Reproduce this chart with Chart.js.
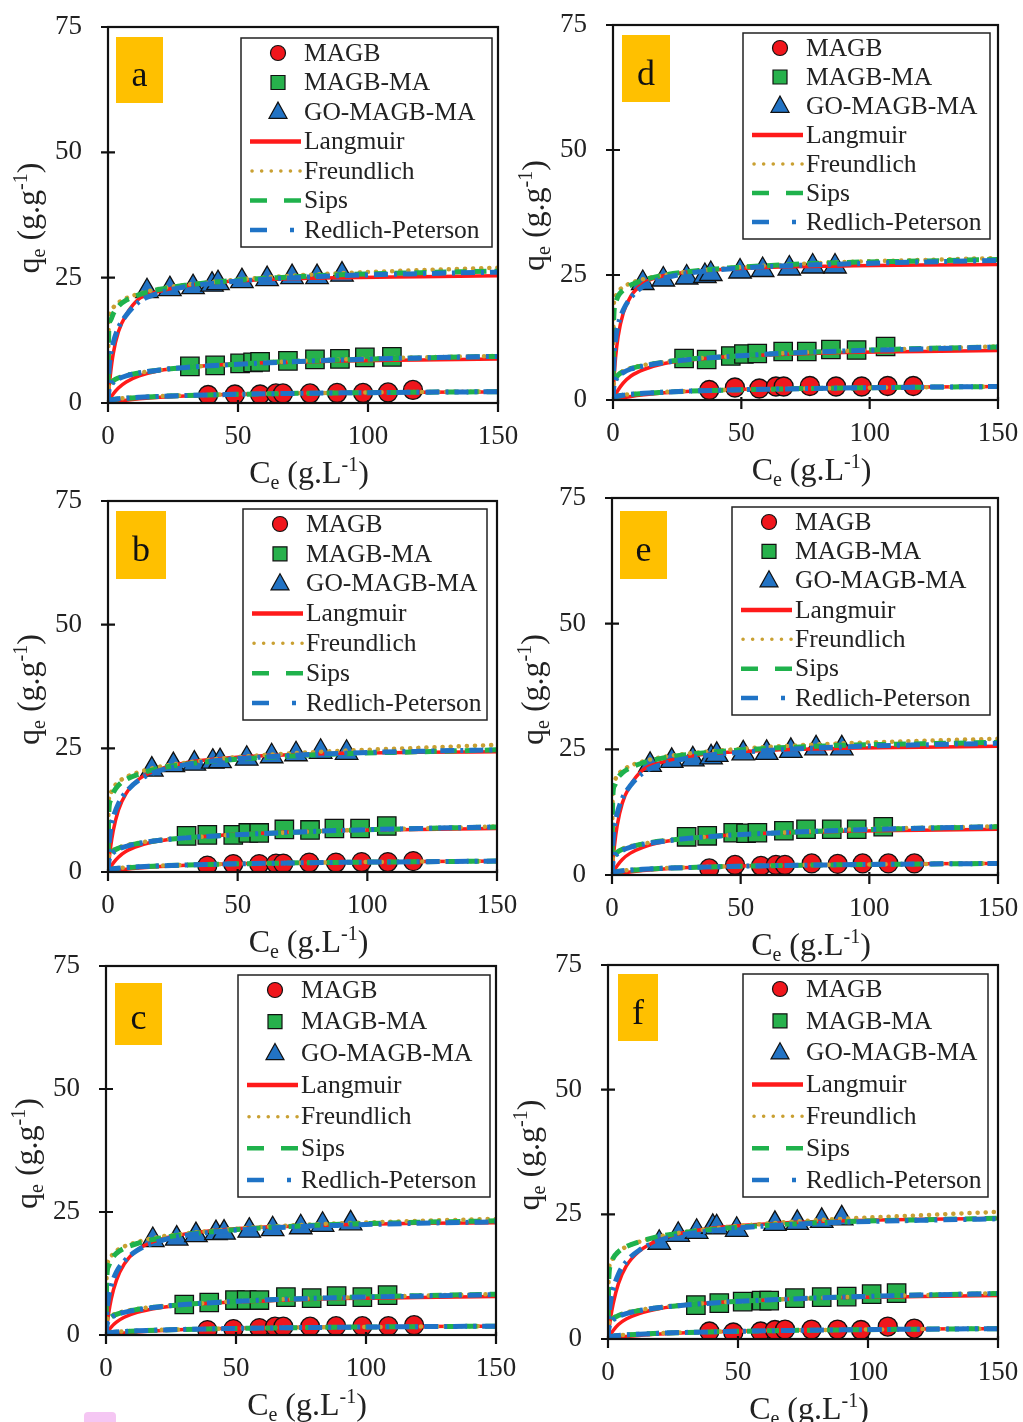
<!DOCTYPE html>
<html>
<head>
<meta charset="utf-8">
<script src="https://cdn.jsdelivr.net/npm/chart.js@4.4.1/dist/chart.umd.min.js"></script>
<style>
  html, body { margin: 0; padding: 0; background: #fff; }
  body { width: 1023px; height: 1422px; position: relative; overflow: hidden; }
  canvas { position: absolute; }
  #mark { position: absolute; left: 84px; top: 1412px; width: 32px; height: 14px; background: #f5c6f3; border-radius: 4px; }
</style>
</head>
<body>
<div id="mark"></div>
<canvas id="pa"></canvas>
<canvas id="pb"></canvas>
<canvas id="pc"></canvas>
<canvas id="pd"></canvas>
<canvas id="pe"></canvas>
<canvas id="pf"></canvas>
<script>
// shared axis / legend content
const matNames = ['MAGB', 'MAGB-MA', 'GO-MAGB-MA'];
const fitNames = ['Langmuir', 'Freundlich', 'Sips', 'Redlich-Peterson'];
const xTicks = [0, 50, 100, 150];
const yTicks = [0, 25, 50, 75];
const fitX = [0, 0.3, 1, 2, 4, 7, 12, 20, 30, 45, 65, 90, 120, 150];

// --- panel a --- (rows: MAGB, MAGB-MA, GO-MAGB-MA)
const ptsXA = [[38.5, 48.8, 58.5, 64.6, 67.3, 77.7, 88.1, 98.1, 107.7, 117.3],
               [31.5, 41.2, 50.8, 55.8, 58.5, 69.2, 79.6, 89.2, 98.8, 109.2],
               [15, 23.8, 32.7, 40, 42.3, 51.5, 61.2, 70.8, 80.4, 90]];
const ptsYA = [[1.6, 1.7, 1.7, 1.9, 1.9, 1.9, 2.0, 2.0, 2.1, 2.6],
               [7.3, 7.5, 7.9, 8.1, 8.2, 8.4, 8.7, 8.8, 9.1, 9.2],
               [22.3, 22.7, 23.1, 23.6, 23.9, 24.3, 24.7, 25.1, 25.1, 25.6]];
const langA = [[0, 0.03, 0.1, 0.2, 0.36, 0.57, 0.84, 1.16, 1.42, 1.68, 1.88, 2.03, 2.13, 2.2],
               [0, 0.33, 1.0, 1.8, 3.0, 4.2, 5.4, 6.5, 7.1, 7.7, 8.1, 8.4, 8.6, 8.8],
               [0, 2.2, 6.0, 9.8, 14.2, 17.6, 20.8, 22.3, 23.4, 24.2, 24.7, 25.0, 25.2, 25.4]];
const freuA = [[0, 0.4, 0.6, 0.72, 0.87, 1.0, 1.16, 1.36, 1.52, 1.7, 1.88, 2.04, 2.2, 2.3],
               [0, 3.3, 4.0, 4.5, 5.0, 5.5, 6.0, 6.6, 7.1, 7.6, 8.2, 8.7, 9.1, 9.4],
               [0, 16.5, 18.0, 19.0, 20.0, 20.9, 21.8, 22.8, 23.6, 24.4, 25.2, 25.9, 26.5, 27.0]];
const sipsA = [[0, 0.25, 0.5, 0.65, 0.8, 0.95, 1.12, 1.33, 1.5, 1.68, 1.86, 2.02, 2.15, 2.25],
               [0, 2.8, 3.8, 4.4, 5.0, 5.5, 6.0, 6.6, 7.1, 7.6, 8.2, 8.6, 9.0, 9.3],
               [0, 14.5, 16.5, 17.8, 19.3, 20.5, 21.6, 22.7, 23.5, 24.3, 25.0, 25.6, 26.0, 26.3]];
const redpA = [[0, 0.3, 0.55, 0.68, 0.83, 0.97, 1.13, 1.33, 1.5, 1.68, 1.86, 2.02, 2.15, 2.25],
               [0, 2.2, 3.4, 4.1, 4.8, 5.4, 6.0, 6.6, 7.1, 7.6, 8.1, 8.6, 9.0, 9.3],
               [0, 5.5, 9.5, 12.0, 15.0, 17.5, 20.2, 22.0, 23.2, 24.1, 24.8, 25.4, 25.8, 26.1]];

// --- panel b ---
const ptsXB = [[38.3, 48.3, 58.3, 64.8, 67.6, 77.6, 87.9, 97.8, 107.9, 117.7],
               [30.3, 38.3, 48.3, 54.1, 58.3, 68, 77.9, 87.3, 97.2, 107.5],
               [16.9, 25.2, 33.3, 40.4, 43.2, 53.5, 63.1, 72.5, 82, 92]];
const ptsYB = [[1.3, 1.6, 1.6, 1.7, 1.7, 1.9, 1.9, 2.0, 2.0, 2.2],
               [7.3, 7.5, 7.5, 7.9, 7.9, 8.6, 8.5, 8.8, 8.8, 9.3],
               [20.7, 21.6, 21.9, 22.3, 22.4, 22.9, 23.4, 23.8, 24.3, 24.1]];
const langB = [[0, 0.03, 0.1, 0.19, 0.35, 0.55, 0.8, 1.1, 1.36, 1.62, 1.82, 1.98, 2.1, 2.2],
               [0, 0.3, 1.0, 1.8, 3.0, 4.2, 5.3, 6.3, 6.9, 7.5, 8.0, 8.4, 8.6, 8.8],
               [0, 1.8, 5.0, 8.3, 12.5, 15.9, 18.8, 20.8, 22.1, 23.0, 23.6, 24.0, 24.2, 24.3]];
const freuB = [[0, 0.35, 0.55, 0.66, 0.8, 0.93, 1.08, 1.27, 1.43, 1.6, 1.78, 1.95, 2.1, 2.2],
               [0, 3.2, 3.9, 4.4, 4.9, 5.4, 5.9, 6.5, 6.9, 7.4, 7.9, 8.4, 8.8, 9.2],
               [0, 14.5, 16.0, 17.0, 18.2, 19.2, 20.2, 21.3, 22.1, 23.0, 23.8, 24.5, 25.1, 25.7]];
const sipsB = [[0, 0.2, 0.45, 0.6, 0.74, 0.88, 1.04, 1.24, 1.41, 1.6, 1.78, 1.95, 2.08, 2.2],
               [0, 2.7, 3.6, 4.2, 4.8, 5.3, 5.8, 6.4, 6.9, 7.4, 7.9, 8.4, 8.8, 9.1],
               [0, 12.0, 14.5, 16.0, 17.5, 18.7, 19.8, 21.0, 21.8, 22.6, 23.3, 23.9, 24.3, 24.7]];
const redpB = [[0, 0.28, 0.5, 0.63, 0.77, 0.9, 1.06, 1.25, 1.42, 1.6, 1.78, 1.95, 2.08, 2.2],
               [0, 2.0, 3.2, 3.9, 4.6, 5.2, 5.8, 6.4, 6.9, 7.4, 7.9, 8.4, 8.8, 9.1],
               [0, 4.5, 8.5, 11.0, 13.8, 16.2, 18.6, 20.5, 21.7, 22.7, 23.4, 24.0, 24.4, 24.7]];

// --- panel c ---
const ptsXC = [[39, 49, 59, 65, 68.2, 78.5, 88.5, 98.6, 108.6, 118.5],
               [30.1, 39.7, 49.6, 54.1, 59, 69.2, 79.1, 88.7, 98.6, 108.3],
               [18, 27.2, 34.6, 42.3, 45.4, 55.1, 64.1, 74.9, 83.3, 94.1]];
const ptsYC = [[1.0, 1.2, 1.4, 1.7, 1.7, 1.7, 1.8, 1.8, 1.8, 2.0],
               [6.2, 6.6, 7.1, 7.1, 7.1, 7.7, 7.5, 7.9, 7.7, 8.1],
               [19.3, 19.6, 20.3, 20.7, 20.8, 21.2, 21.5, 21.9, 22.4, 22.7]];
const langC = [[0, 0.02, 0.07, 0.14, 0.26, 0.42, 0.63, 0.88, 1.1, 1.32, 1.5, 1.63, 1.72, 1.78],
               [0, 0.3, 0.9, 1.6, 2.6, 3.6, 4.6, 5.5, 6.1, 6.6, 7.0, 7.4, 7.6, 7.8],
               [0, 1.5, 4.3, 7.3, 11.1, 14.4, 17.3, 19.3, 20.5, 21.4, 22.0, 22.4, 22.7, 22.8]];
const freuC = [[0, 0.25, 0.4, 0.5, 0.62, 0.73, 0.86, 1.02, 1.15, 1.3, 1.45, 1.58, 1.7, 1.8],
               [0, 2.9, 3.5, 3.9, 4.4, 4.8, 5.3, 5.8, 6.2, 6.7, 7.2, 7.6, 8.0, 8.3],
               [0, 13.5, 15.0, 16.0, 17.1, 18.0, 18.9, 19.9, 20.6, 21.4, 22.1, 22.7, 23.2, 23.6]];
const sipsC = [[0, 0.15, 0.32, 0.44, 0.57, 0.69, 0.83, 0.99, 1.13, 1.29, 1.44, 1.58, 1.7, 1.8],
               [0, 2.4, 3.2, 3.7, 4.2, 4.7, 5.2, 5.7, 6.2, 6.7, 7.2, 7.6, 8.0, 8.3],
               [0, 11.5, 14.0, 15.3, 16.6, 17.6, 18.6, 19.6, 20.4, 21.2, 21.9, 22.5, 22.9, 23.2]];
const redpC = [[0, 0.2, 0.36, 0.47, 0.6, 0.71, 0.85, 1.0, 1.14, 1.3, 1.45, 1.58, 1.7, 1.8],
               [0, 1.8, 2.9, 3.5, 4.1, 4.6, 5.1, 5.7, 6.2, 6.7, 7.2, 7.6, 7.9, 8.2],
               [0, 4.0, 7.5, 10.0, 12.8, 15.0, 17.2, 19.0, 20.2, 21.1, 21.8, 22.3, 22.7, 23.0]];

// --- panel d ---
const ptsXD = [[37.5, 47.5, 57, 63.5, 66.5, 76.7, 86.9, 96.9, 107, 117],
               [27.7, 36.5, 45.9, 51, 56.2, 66.3, 75.5, 84.9, 94.9, 106.2],
               [11.6, 19.6, 28.7, 35.8, 38.1, 49.5, 58.3, 68.7, 77.8, 86.5]];
const ptsYD = [[2.0, 2.5, 2.3, 2.7, 2.7, 2.8, 2.7, 2.7, 2.8, 2.8],
               [8.3, 8.1, 8.8, 9.2, 9.3, 9.7, 9.7, 10.1, 10.0, 10.7],
               [23.4, 24.1, 24.5, 24.8, 25.2, 25.7, 26.0, 26.3, 26.7, 26.7]];
const langD = [[0, 0.04, 0.13, 0.25, 0.45, 0.72, 1.05, 1.45, 1.77, 2.08, 2.32, 2.48, 2.6, 2.68],
               [0, 0.35, 1.1, 2.0, 3.4, 4.8, 6.1, 7.3, 8.0, 8.7, 9.1, 9.5, 9.7, 9.9],
               [0, 3.3, 8.5, 12.7, 17.4, 20.8, 23.4, 24.9, 25.6, 26.2, 26.6, 26.8, 27.0, 27.1]];
const freuD = [[0, 0.45, 0.7, 0.85, 1.02, 1.18, 1.37, 1.6, 1.8, 2.0, 2.2, 2.4, 2.56, 2.7],
               [0, 3.8, 4.6, 5.2, 5.8, 6.4, 7.0, 7.6, 8.2, 8.7, 9.3, 9.8, 10.3, 10.7],
               [0, 19.0, 20.8, 21.7, 22.6, 23.4, 24.2, 25.0, 25.7, 26.4, 27.0, 27.6, 28.0, 28.4]];
const sipsD = [[0, 0.3, 0.58, 0.76, 0.95, 1.12, 1.32, 1.56, 1.77, 1.99, 2.2, 2.4, 2.56, 2.7],
               [0, 3.2, 4.3, 5.0, 5.7, 6.3, 6.9, 7.6, 8.2, 8.7, 9.3, 9.8, 10.3, 10.6],
               [0, 16.5, 19.5, 20.8, 22.0, 23.0, 24.0, 25.0, 25.7, 26.4, 27.0, 27.5, 27.8, 28.1]];
const redpD = [[0, 0.35, 0.62, 0.79, 0.97, 1.14, 1.34, 1.57, 1.78, 2.0, 2.2, 2.4, 2.56, 2.7],
               [0, 2.5, 3.8, 4.7, 5.5, 6.2, 6.8, 7.5, 8.1, 8.7, 9.3, 9.8, 10.2, 10.6],
               [0, 7.0, 12.0, 15.0, 18.0, 20.5, 22.8, 24.4, 25.4, 26.2, 26.8, 27.2, 27.6, 27.9]];

// --- panel e ---
const ptsXE = [[37.8, 47.8, 57.9, 63.7, 67.2, 77.6, 87.7, 97.4, 107.4, 117.5],
               [29, 37, 47.1, 52.1, 56.5, 66.8, 75.4, 85.4, 95.1, 105.4],
               [14.8, 23.2, 31.4, 38.5, 40.7, 51, 60.1, 69.5, 79.3, 89.3]];
const ptsYE = [[1.3, 2.0, 1.8, 2.0, 2.0, 2.3, 2.2, 2.3, 2.3, 2.3],
               [7.6, 7.8, 8.4, 8.3, 8.4, 8.8, 9.1, 9.1, 9.1, 9.6],
               [21.9, 22.7, 23.0, 23.4, 23.9, 24.2, 24.3, 24.7, 25.2, 25.2]];
const langE = [[0, 0.03, 0.11, 0.21, 0.38, 0.6, 0.88, 1.21, 1.48, 1.75, 1.96, 2.11, 2.22, 2.3],
               [0, 0.33, 1.0, 1.85, 3.1, 4.3, 5.5, 6.6, 7.3, 7.9, 8.4, 8.7, 8.9, 9.1],
               [0, 2.2, 6.0, 9.8, 14.3, 17.7, 20.9, 22.5, 23.6, 24.4, 24.9, 25.2, 25.4, 25.6]];
const freuE = [[0, 0.38, 0.6, 0.72, 0.87, 1.0, 1.16, 1.36, 1.53, 1.71, 1.9, 2.06, 2.2, 2.32],
               [0, 3.4, 4.1, 4.6, 5.2, 5.7, 6.2, 6.8, 7.3, 7.9, 8.4, 9.0, 9.4, 9.7],
               [0, 17.0, 18.8, 19.8, 20.8, 21.7, 22.6, 23.5, 24.2, 24.9, 25.6, 26.2, 26.7, 27.1]];
const sipsE = [[0, 0.25, 0.5, 0.65, 0.8, 0.95, 1.12, 1.33, 1.5, 1.69, 1.88, 2.04, 2.18, 2.3],
               [0, 2.9, 3.9, 4.5, 5.1, 5.6, 6.2, 6.8, 7.3, 7.9, 8.4, 8.9, 9.3, 9.6],
               [0, 15.5, 17.8, 19.1, 20.3, 21.3, 22.3, 23.3, 24.0, 24.7, 25.3, 25.8, 26.1, 26.4]];
const redpE = [[0, 0.3, 0.54, 0.68, 0.83, 0.97, 1.13, 1.33, 1.5, 1.69, 1.88, 2.04, 2.18, 2.3],
               [0, 2.2, 3.5, 4.2, 4.9, 5.5, 6.1, 6.7, 7.3, 7.9, 8.4, 8.9, 9.3, 9.6],
               [0, 5.5, 9.6, 12.2, 15.2, 17.7, 20.3, 22.1, 23.3, 24.2, 24.9, 25.5, 25.9, 26.2]];

// --- panel f ---
const ptsXF = [[39, 48.2, 58.7, 64.2, 68.1, 78.3, 88.3, 97.3, 107.6, 117.8],
               [33.8, 42.8, 51.8, 59.1, 62, 71.9, 82.2, 91.8, 101.4, 111],
               [19.7, 27, 34.1, 40.3, 41.8, 49.5, 64.2, 72.8, 82.2, 89.9]];
const ptsYF = [[1.5, 1.3, 1.5, 1.8, 1.9, 1.9, 1.9, 1.8, 2.5, 2.1],
               [6.8, 7.2, 7.5, 7.7, 7.7, 8.2, 8.4, 8.5, 9.0, 9.2],
               [19.3, 20.9, 21.5, 22.5, 22.4, 21.9, 23.1, 23.3, 23.7, 24.2]];
const langF = [[0, 0.02, 0.08, 0.16, 0.3, 0.48, 0.72, 1.0, 1.26, 1.52, 1.73, 1.88, 2.0, 2.08],
               [0, 0.3, 0.9, 1.7, 2.9, 4.0, 5.1, 6.1, 6.8, 7.4, 7.9, 8.3, 8.5, 8.7],
               [0, 1.5, 4.2, 7.1, 11.1, 14.6, 17.6, 20.0, 21.4, 22.5, 23.2, 23.7, 24.0, 24.2]];
const freuF = [[0, 0.3, 0.48, 0.59, 0.72, 0.85, 0.99, 1.17, 1.33, 1.5, 1.68, 1.84, 1.98, 2.1],
               [0, 3.1, 3.8, 4.3, 4.8, 5.3, 5.8, 6.4, 6.9, 7.4, 7.9, 8.4, 8.8, 9.2],
               [0, 13.5, 15.2, 16.3, 17.5, 18.5, 19.5, 20.6, 21.5, 22.4, 23.3, 24.1, 24.8, 25.5]];
const sipsF = [[0, 0.2, 0.4, 0.54, 0.68, 0.81, 0.96, 1.15, 1.31, 1.49, 1.67, 1.83, 1.97, 2.08],
               [0, 2.6, 3.5, 4.1, 4.7, 5.2, 5.7, 6.3, 6.8, 7.4, 7.9, 8.4, 8.8, 9.1],
               [0, 12.0, 14.8, 16.2, 17.5, 18.5, 19.5, 20.6, 21.4, 22.2, 22.9, 23.5, 23.9, 24.2]];
const redpF = [[0, 0.24, 0.44, 0.57, 0.7, 0.83, 0.97, 1.16, 1.32, 1.5, 1.67, 1.83, 1.97, 2.08],
               [0, 2.0, 3.1, 3.8, 4.5, 5.1, 5.7, 6.3, 6.8, 7.4, 7.9, 8.4, 8.8, 9.1],
               [0, 4.0, 7.5, 10.0, 13.0, 15.5, 17.8, 19.8, 21.0, 22.0, 22.8, 23.4, 23.8, 24.1]];

const SERIF = "'Liberation Serif', 'DejaVu Serif', serif";

const markStyle = [
  { shape: 'circle', r: 9.5, color: '#f0161c' },
  { shape: 'rect', r: 13, color: '#27b14c' },
  { shape: 'triangle', r: 13, color: '#2273c4' }
];
const lineStyle = [
  { color: '#ff1a1a', width: 3.5, dash: [], cap: 'butt' },
  { color: '#c9a032', width: 4.5, dash: [0.1, 8], cap: 'round' },
  { color: '#1fb24c', width: 5, dash: [12, 8], cap: 'butt' },
  { color: '#1f73c6', width: 5, dash: [14, 6, 3, 6], cap: 'butt' }
];
const legendDash = [[], [0.1, 9.5], [17, 17], [17, 23, 4, 40]];

// page geometry of each panel
const panels = [
  { id: 'pa', tag: 'a', px: ptsXA, py: ptsYA, fits: [langA, freuA, sipsA, redpA],
    cv: { x: 0, y: 0, w: 540, h: 495 }, area: { l: 108, t: 27, r: 498, b: 403 },
    leg: { x: 241, y: 38, w: 251, h: 209 }, box: { x: 116, y: 37, w: 47, h: 66 } },
  { id: 'pb', tag: 'b', px: ptsXB, py: ptsYB, fits: [langB, freuB, sipsB, redpB],
    cv: { x: 0, y: 470, w: 540, h: 495 }, area: { l: 108, t: 501, r: 497, b: 872 },
    leg: { x: 243, y: 509, w: 244, h: 211 }, box: { x: 116, y: 511, w: 50, h: 68 } },
  { id: 'pc', tag: 'c', px: ptsXC, py: ptsYC, fits: [langC, freuC, sipsC, redpC],
    cv: { x: 0, y: 940, w: 540, h: 482 }, area: { l: 106, t: 966, r: 496, b: 1335 },
    leg: { x: 238, y: 975, w: 252, h: 222 }, box: { x: 115, y: 983, w: 47, h: 62 } },
  { id: 'pd', tag: 'd', px: ptsXD, py: ptsYD, fits: [langD, freuD, sipsD, redpD],
    cv: { x: 505, y: 0, w: 518, h: 495 }, area: { l: 613, t: 25, r: 998, b: 400 },
    leg: { x: 743, y: 33, w: 247, h: 206 }, box: { x: 622, y: 35, w: 48, h: 67 } },
  { id: 'pe', tag: 'e', px: ptsXE, py: ptsYE, fits: [langE, freuE, sipsE, redpE],
    cv: { x: 505, y: 470, w: 518, h: 495 }, area: { l: 612, t: 498, r: 998, b: 875 },
    leg: { x: 732, y: 507, w: 258, h: 208 }, box: { x: 620, y: 511, w: 47, h: 68 } },
  { id: 'pf', tag: 'f', px: ptsXF, py: ptsYF, fits: [langF, freuF, sipsF, redpF],
    cv: { x: 505, y: 940, w: 518, h: 482 }, area: { l: 608, t: 965, r: 998, b: 1339 },
    leg: { x: 743, y: 974, w: 245, h: 223 }, box: { x: 618, y: 974, w: 40, h: 67 } }
];

const Y_AXIS_W = 60, X_AXIS_H = 50;

function drawMark(ctx, k, cx, cy, s) {
  ctx.save();
  ctx.fillStyle = markStyle[k].color;
  ctx.strokeStyle = '#111';
  ctx.lineWidth = 1.2;
  ctx.beginPath();
  if (k === 0) ctx.arc(cx, cy, s, 0, Math.PI * 2);
  else if (k === 1) ctx.rect(cx - s, cy - s, 2 * s, 2 * s);
  else { ctx.moveTo(cx, cy - s * 1.1); ctx.lineTo(cx + s, cy + s * 0.7); ctx.lineTo(cx - s, cy + s * 0.7); ctx.closePath(); }
  ctx.fill();
  ctx.stroke();
  ctx.restore();
}

function drawRuns(ctx, runs, cx, by, size) {
  const fontFor = k => (k === 'n' ? size : Math.round(size * 0.62)) + 'px ' + SERIF;
  let w = 0;
  runs.forEach(([t, k]) => { ctx.font = fontFor(k); w += ctx.measureText(t).width; });
  let xx = cx - w / 2;
  ctx.textAlign = 'left';
  ctx.textBaseline = 'alphabetic';
  runs.forEach(([t, k]) => {
    ctx.font = fontFor(k);
    const dy = k === 'sub' ? size * 0.2 : (k === 'sup' ? -size * 0.38 : 0);
    ctx.fillText(t, xx, by + dy);
    xx += ctx.measureText(t).width;
  });
}

const xTitle = [['C', 'n'], ['e', 'sub'], [' (g.L', 'n'], ['-1', 'sup'], [')', 'n']];
const yTitle = [['q', 'n'], ['e', 'sub'], [' (g.g', 'n'], ['-1', 'sup'], [')', 'n']];

const decor = {
  id: 'decor',
  afterDatasetsDraw(chart, args, opts) {
    const { ctx, chartArea: a, scales: { x, y } } = chart;
    ctx.save();
    ctx.strokeStyle = '#111';
    ctx.lineWidth = 2.2;
    ctx.strokeRect(a.left, a.top, a.right - a.left, a.bottom - a.top);
    ctx.beginPath();
    yTicks.forEach(v => {
      const p = y.getPixelForValue(v);
      ctx.moveTo(a.left - 7, p); ctx.lineTo(a.left + 7, p);
    });
    xTicks.forEach(v => {
      const p = x.getPixelForValue(v);
      ctx.moveTo(p, a.bottom - 3); ctx.lineTo(p, a.bottom + 9);
    });
    ctx.stroke();
    ctx.restore();
  },
  afterDraw(chart, args, opts) {
    const { ctx, chartArea: a } = chart;
    const ox = opts.cv.x, oy = opts.cv.y;
    ctx.save();
    // panel letter
    const b = opts.box;
    ctx.fillStyle = '#ffc000';
    ctx.fillRect(b.x - ox, b.y - oy, b.w, b.h);
    ctx.fillStyle = '#111';
    ctx.font = '36px ' + SERIF;
    ctx.textAlign = 'center';
    ctx.textBaseline = 'alphabetic';
    ctx.fillText(opts.tag, b.x - ox + b.w / 2, b.y - oy + b.h * 0.74);

    // legend
    const L = opts.leg;
    const lx = L.x - ox, ly = L.y - oy;
    ctx.fillStyle = '#fff';
    ctx.fillRect(lx, ly, L.w, L.h);
    ctx.strokeStyle = '#222';
    ctx.lineWidth = 1.5;
    ctx.strokeRect(lx, ly, L.w, L.h);
    const step = (L.h - 32) / 6;
    const labels = matNames.concat(fitNames);
    labels.forEach((lab, i) => {
      const cy = ly + 15 + i * step;
      if (i < 3) {
        drawMark(ctx, i, lx + 37, cy, i === 0 ? 7.5 : (i === 1 ? 7 : 9));
      } else {
        const m = i - 3;
        ctx.save();
        ctx.strokeStyle = lineStyle[m].color;
        ctx.lineWidth = m === 1 ? 3.5 : 4.5;
        ctx.lineCap = m === 1 ? 'round' : 'butt';
        ctx.setLineDash(legendDash[m]);
        ctx.beginPath();
        ctx.moveTo(lx + (m === 1 ? 11 : 9), cy);
        ctx.lineTo(lx + 60, cy);
        ctx.stroke();
        ctx.restore();
      }
      ctx.fillStyle = '#222';
      ctx.font = '25.5px ' + SERIF;
      ctx.textAlign = 'left';
      ctx.textBaseline = 'middle';
      ctx.fillText(lab, lx + 63, cy + 1);
    });

    // axis titles
    ctx.fillStyle = '#222';
    drawRuns(ctx, xTitle, (a.left + a.right) / 2 + 6, a.bottom + 80, 32);
    ctx.save();
    ctx.translate(a.left - 69, (a.top + a.bottom) / 2 + 3);
    ctx.rotate(-Math.PI / 2);
    drawRuns(ctx, yTitle, 0, 0, 32);
    ctx.restore();
    ctx.restore();
  }
};

Chart.defaults.font.family = SERIF;
Chart.defaults.color = '#222';

panels.forEach(p => {
  const cvs = document.getElementById(p.id);
  cvs.width = p.cv.w;
  cvs.height = p.cv.h;
  cvs.style.left = p.cv.x + 'px';
  cvs.style.top = p.cv.y + 'px';
  cvs.style.width = p.cv.w + 'px';
  cvs.style.height = p.cv.h + 'px';

  const datasets = [];
  // Redlich-Peterson drawn on top, markers at the bottom
  [3, 2, 1, 0].forEach(m => {
    p.fits[m].forEach(ys => {
      datasets.push({
        label: fitNames[m],
        data: fitX.map((x, i) => ({ x: x, y: ys[i] })),
        borderColor: lineStyle[m].color,
        borderWidth: lineStyle[m].width,
        borderDash: lineStyle[m].dash,
        borderCapStyle: lineStyle[m].cap,
        cubicInterpolationMode: 'monotone',
        pointRadius: 0,
        fill: false
      });
    });
  });
  [2, 1, 0].forEach(k => {
    datasets.push({
      label: matNames[k],
      data: p.px[k].map((x, i) => ({ x: x, y: p.py[k][i] })),
      showLine: false,
      pointStyle: markStyle[k].shape,
      pointRadius: markStyle[k].r,
      pointBackgroundColor: markStyle[k].color,
      pointBorderColor: '#111',
      pointBorderWidth: 1.3
    });
  });

  new Chart(cvs.getContext('2d'), {
    type: 'line',
    data: { datasets: datasets },
    options: {
      responsive: false,
      animation: false,
      devicePixelRatio: 1,
      events: [],
      layout: {
        padding: {
          left: p.area.l - p.cv.x - Y_AXIS_W,
          top: p.area.t - p.cv.y,
          right: p.cv.x + p.cv.w - p.area.r,
          bottom: p.cv.y + p.cv.h - p.area.b - X_AXIS_H
        }
      },
      scales: {
        x: {
          type: 'linear',
          min: 0, max: 150,
          afterFit: s => { s.height = X_AXIS_H; },
          ticks: { stepSize: 50, maxRotation: 0, autoSkip: false, padding: 2, font: { size: 27 }, color: '#222' },
          grid: { drawOnChartArea: false, drawTicks: true, tickLength: 16, tickColor: 'rgba(0,0,0,0)', color: 'rgba(0,0,0,0)' },
          border: { display: false }
        },
        y: {
          min: 0, max: 75,
          afterFit: s => { s.width = Y_AXIS_W; },
          ticks: { stepSize: 25, padding: 2, font: { size: 27 }, color: '#222' },
          grid: { drawOnChartArea: false, drawTicks: true, tickLength: 24, tickColor: 'rgba(0,0,0,0)', color: 'rgba(0,0,0,0)' },
          border: { display: false }
        }
      },
      plugins: {
        legend: { display: false },
        tooltip: { enabled: false },
        decor: { tag: p.tag, cv: p.cv, leg: p.leg, box: p.box }
      }
    },
    plugins: [decor]
  });
});
</script>
</body>
</html>
